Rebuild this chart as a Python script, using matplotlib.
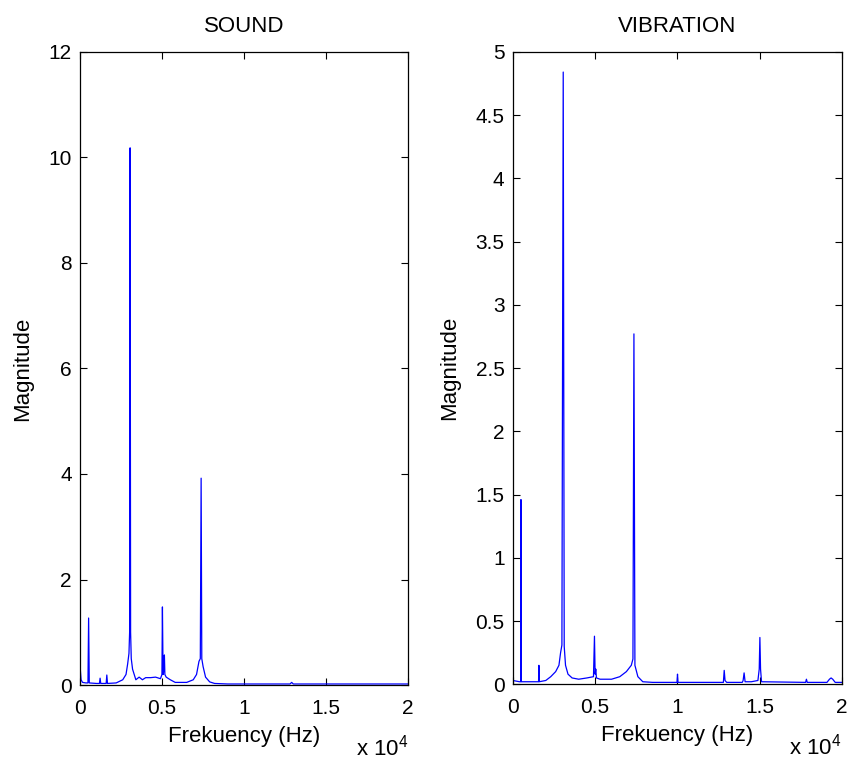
import numpy as np
import matplotlib
matplotlib.use('Agg')
import matplotlib.pyplot as plt

plt.rcParams['font.family'] = ['Liberation Sans', 'DejaVu Sans']
plt.rcParams['mathtext.default'] = 'regular'
plt.rcParams['font.size'] = 15

# spectrum (Hz, magnitude)
sound_freq = [0, 60, 150, 350, 480, 520, 560, 1000, 1180, 1220, 1260, 1590, 1630, 1670,
              2200, 2600, 2800, 2900, 2980, 3020, 3050, 3080, 3120, 3200, 3300, 3400,
              3600, 3800, 4000, 4300, 4600, 4900, 4990, 5020, 5060, 5120, 5140, 5170,
              5250, 5500, 5800, 6500, 6900, 7100, 7250, 7330, 7380, 7420, 7500, 7650,
              7900, 8200, 9000, 12800, 12900, 13000, 20000]
sound_mag = [0.35, 0.1, 0.05, 0.04, 0.04, 1.27, 0.04, 0.03, 0.03, 0.13, 0.03, 0.03, 0.19, 0.03,
             0.04, 0.1, 0.2, 0.4, 0.6, 1.0, 10.18, 1.0, 0.5, 0.3, 0.2, 0.1,
             0.15, 0.1, 0.14, 0.14, 0.15, 0.12, 0.2, 1.48, 0.2, 0.3, 0.57, 0.2,
             0.15, 0.1, 0.05, 0.05, 0.1, 0.2, 0.45, 0.5, 3.92, 0.5, 0.35, 0.15,
             0.06, 0.03, 0.02, 0.02, 0.05, 0.02, 0.02]

vib_freq = [0, 400, 470, 490, 510, 1000, 1560, 1580, 1600, 2000, 2300, 2600, 2800, 2900,
            2980, 3060, 3120, 3200, 3350, 3600, 4000, 4500, 4900, 4960, 5000, 5040, 5080,
            5300, 6000, 6500, 6900, 7200, 7300, 7360, 7420, 7600, 7900, 8500, 9980, 10010,
            10040, 12800, 12850, 12900, 13000, 13950, 14000, 14060, 14120, 14500, 14900,
            14980, 15020, 15060, 15120, 17800, 17850, 17900, 19100, 19250, 19350, 19450,
            19600, 20000]
vib_mag = [0.03, 0.02, 0.02, 1.46, 0.02, 0.02, 0.02, 0.15, 0.02, 0.03, 0.06, 0.1, 0.15, 0.25,
           0.31, 4.84, 0.3, 0.15, 0.08, 0.05, 0.04, 0.05, 0.06, 0.38, 0.08, 0.12, 0.05,
           0.04, 0.04, 0.06, 0.1, 0.15, 0.2, 2.77, 0.15, 0.06, 0.02, 0.015, 0.015, 0.08,
           0.015, 0.015, 0.11, 0.03, 0.015, 0.015, 0.03, 0.09, 0.02, 0.02, 0.03,
           0.12, 0.37, 0.12, 0.02, 0.015, 0.04, 0.015, 0.015, 0.04, 0.05, 0.04,
           0.015, 0.015]

xticks = [0, 5000, 10000, 15000, 20000]
xtick_labels = ['0', '0.5', '1', '1.5', '2']
sound_yticks = [0, 2, 4, 6, 8, 10, 12]
vib_yticks = [0, 0.5, 1, 1.5, 2, 2.5, 3, 3.5, 4, 4.5, 5]
vib_ylabels = ['0', '0.5', '1', '1.5', '2', '2.5', '3', '3.5', '4', '4.5', '5']

fig = plt.figure(figsize=(8.52, 7.62), dpi=100)
ax1 = fig.add_axes([0.094, 0.101, 0.385, 0.831])
ax2 = fig.add_axes([0.602, 0.102, 0.386, 0.830])

panels = [(ax1, sound_freq, sound_mag, 'SOUND', sound_yticks, [str(t) for t in sound_yticks], 12),
          (ax2, vib_freq, vib_mag, 'VIBRATION', vib_yticks, vib_ylabels, 5)]

for ax, f, m, title, yt, yl, ymax in panels:
    ax.plot(f, m, color='#0000ff', lw=0.9)
    ax.set_xlim(0, 20000)
    ax.set_ylim(0, ymax)
    ax.set_xticks(xticks)
    ax.set_xticklabels(xtick_labels)
    ax.set_yticks(yt)
    ax.set_yticklabels(yl)
    ax.tick_params(direction='in', top=True, right=True, length=5, width=0.8,
                   pad=6, labelsize=15)
    ax.tick_params(axis='x', pad=10)
    for s in ax.spines.values():
        s.set_linewidth(0.9)
    ax.set_title(title, fontsize=16, pad=14)
    ax.set_xlabel('Frekuency (Hz)', fontsize=16, labelpad=6)
    ax.set_ylabel('Magnitude', fontsize=16, labelpad=11)
    ax.text(1.0, -0.078, r'x 10$^{4}$', transform=ax.transAxes, ha='right', va='top', fontsize=16)

fig.savefig('out.png', dpi=100)
